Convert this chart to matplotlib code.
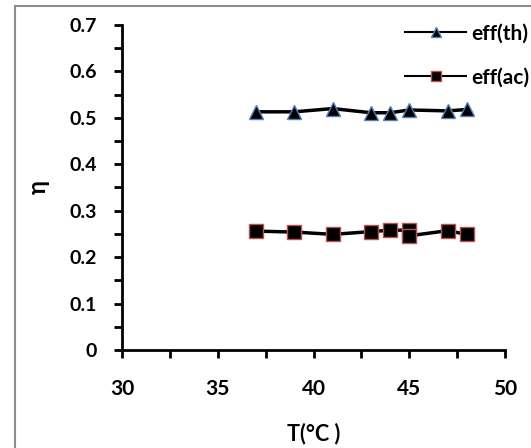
import matplotlib.pyplot as plt
from matplotlib.lines import Line2D
from matplotlib.patches import Rectangle
from matplotlib.ticker import MultipleLocator

plt.rcParams['font.family'] = ['Lato', 'DejaVu Sans']

temp_th = [37, 39, 41, 43, 44, 45, 47, 48]
eff_th = [0.513, 0.513, 0.520, 0.511, 0.511, 0.517, 0.515, 0.518]

temp_ac = [37, 39, 41, 43, 44, 45, 45, 47, 48]
eff_ac = [0.256, 0.254, 0.249, 0.255, 0.258, 0.258, 0.246, 0.257, 0.249]

fig = plt.figure(figsize=(5.31, 4.48), dpi=100)
ax = fig.add_axes([0.2298, 0.2188, 0.7214, 0.7254])

ax.plot(temp_th, eff_th, color='black', lw=2.5, marker='^', ms=10.5,
        mfc='black', mec='#4F81BD', mew=1)
ax.plot(temp_ac, eff_ac, color='black', lw=2.5, marker='s', ms=10,
        mfc='black', mec='#C0504D', mew=1)

ax.set_xlim(30, 50)
ax.set_ylim(0, 0.7)
ax.xaxis.set_major_locator(MultipleLocator(5))
ax.xaxis.set_minor_locator(MultipleLocator(2.5))
ax.yaxis.set_minor_locator(MultipleLocator(0.05))
ax.set_yticks([0, 0.1, 0.2, 0.3, 0.4, 0.5, 0.6, 0.7],
              ['0', '0.1', '0.2', '0.3', '0.4', '0.5', '0.6', '0.7'])

for s in ['top', 'right']:
    ax.spines[s].set_visible(False)
for s in ['left', 'bottom']:
    ax.spines[s].set_linewidth(2)
ax.tick_params(which='both', direction='out', width=2, length=6)
ax.tick_params(axis='y', labelsize=14, pad=12)
ax.tick_params(axis='x', labelsize=15, pad=15)
for lab in ax.get_xticklabels() + ax.get_yticklabels():
    lab.set_fontweight('bold')

ax.set_xlabel('T(°C )', fontsize=15.5, fontweight='bold', labelpad=17)
ax.set_ylabel('η', fontsize=17, fontweight='bold', labelpad=14)

handles = [
    Line2D([], [], color='black', lw=1.5, marker='^', ms=7, mfc='black', mec='#4F81BD'),
    Line2D([], [], color='black', lw=1.5, marker='s', ms=7, mfc='black', mec='#C0504D'),
]
fig.legend(handles, ['eff(th)', 'eff(ac)'], loc='upper left',
           bbox_to_anchor=(0.728, 0.99), frameon=False,
           prop={'size': 15, 'weight': 'bold'},
           handlelength=2.9, handletextpad=0.25, labelspacing=1.15)

# outer chart frame (only left and top edges show)
fig.patches.append(Rectangle((15 / 531, -0.5), 2, 0.5 + 1 - 6 / 448,
                             transform=fig.transFigure, fill=False,
                             edgecolor='#8c8c8c', lw=1.5))

fig.savefig('out.png', dpi=100)
